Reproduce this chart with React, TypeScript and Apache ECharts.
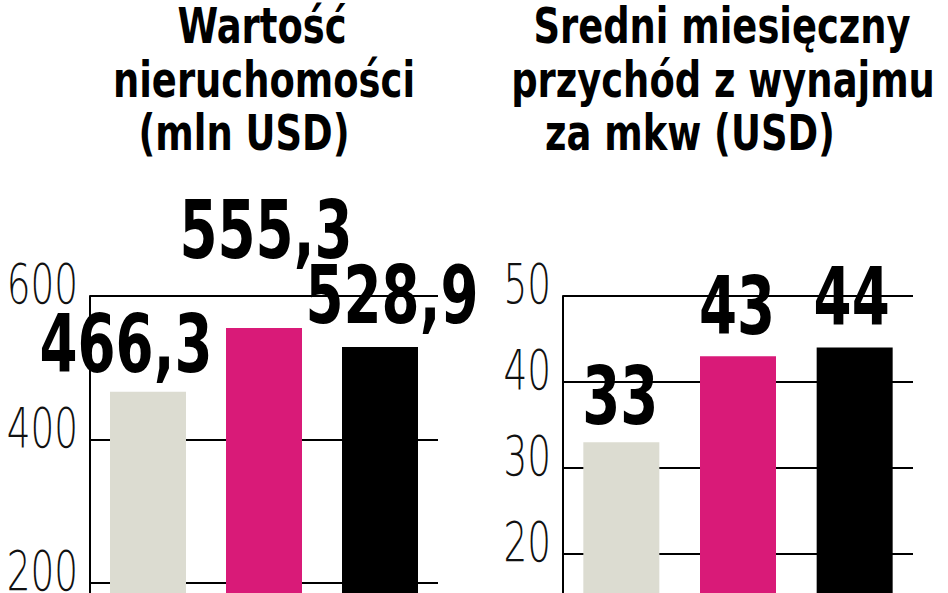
import React, { useEffect, useRef } from "react";
import * as echarts from "echarts";

// Categories are not visible in the cropped reference; kept as hidden placeholders
const categories = ["I", "II", "III"];
const propertyValues = [466.3, 555.3, 528.9]; // mln USD
const rentValues = [33, 43, 44]; // USD per sqm per month
const propertyTicks = [200, 400, 600];
const rentTicks = [20, 30, 40, 50];
const barColors = ["#dcdcd1", "#d91a78", "#000000"];
const propertyTitle = ["Wartość", "nieruchomości", "(mln USD)"];
const rentTitle = ["Sredni miesięczny", "przychód z wynajmu", "za mkw (USD)"];

// layout constants
const GRID_LEFT = [90, 563];
const GRID_RIGHT = [510, 35];
const GRID_TOP = 296;
const GRID_BOTTOM = -133;
const TITLE_CENTERS = [[262, 264, 244], [722, 723, 690]];
const TITLE_BASELINES = [43, 97, 150];
// extra label nudges (px) as placed in the original layout
const propertyLabelOffsets = [[-22, 0], [2, -50], [12, -4]];
const rentLabelOffsets = [[-1, 2], [-1, -2], [-3, -3]];

const COND = "'DejaVu Sans Condensed', 'DejaVu Sans', sans-serif";
const LIGHT = "'DejaVu Sans', sans-serif";

export default function App() {
  const ref = useRef<HTMLDivElement>(null);
  useEffect(() => {
    if (!ref.current) return;
    const chart = echarts.init(ref.current, null, { renderer: "svg" });

    const axisCommon = {
      axisLine: { show: true, lineStyle: { color: "#000", width: 2 } },
      axisTick: { show: false },
      axisLabel: { show: false },
      splitLine: { show: true, lineStyle: { color: "#000", width: 2 } },
    };

    chart.setOption({
      animation: false,
      backgroundColor: "#ffffff",
      grid: [0, 1].map((i) => ({
        left: GRID_LEFT[i],
        right: GRID_RIGHT[i],
        top: GRID_TOP,
        bottom: GRID_BOTTOM,
        containLabel: false,
        outerBoundsMode: "none",
      })),
      xAxis: [0, 1].map((i) => ({
        type: "category",
        gridIndex: i,
        data: categories,
        axisLine: { show: false },
        axisTick: { show: false },
        axisLabel: { show: false },
      })),
      yAxis: [
        { type: "value", gridIndex: 0, min: 0, max: 600, interval: 200, ...axisCommon },
        { type: "value", gridIndex: 1, min: 0, max: 50, interval: 10, ...axisCommon },
      ],
      series: [
        {
          type: "bar",
          xAxisIndex: 0,
          yAxisIndex: 0,
          barWidth: 76,
          data: propertyValues.map((v, i) => ({ value: v, itemStyle: { color: barColors[i] } })),
        },
        {
          type: "bar",
          xAxisIndex: 1,
          yAxisIndex: 1,
          barWidth: 76,
          data: rentValues.map((v, i) => ({ value: v, itemStyle: { color: barColors[i] } })),
        },
      ],
    });

    const graphics: any[] = [];

    // titles
    [propertyTitle, rentTitle].forEach((lines, p) => {
      lines.forEach((t, i) => {
        graphics.push({
          type: "text",
          x: TITLE_CENTERS[p][i],
          y: TITLE_BASELINES[i] - 0.346 * 50,
          scaleX: 0.82,
          z: 100,
          style: {
            text: t,
            fontFamily: COND,
            fontWeight: "bold",
            fontSize: 50,
            lineHeight: 46,
            fill: "#000",
            textAlign: "center",
            textVerticalAlign: "middle",
          },
        });
      });
    });

    // tick labels (positions from the value axes)
    [propertyTicks, rentTicks].forEach((ticks, p) => {
      ticks.forEach((t) => {
        const py = chart.convertToPixel({ yAxisIndex: p }, t) as number;
        graphics.push({
          type: "text",
          x: GRID_LEFT[p] - 12,
          y: py - 12,
          scaleX: 0.68,
          z: 100,
          style: {
            text: String(t),
            fontFamily: LIGHT,
            fontWeight: 200,
            fontSize: 55,
            lineHeight: 42,
            fill: "#111",
            textAlign: "right",
            textVerticalAlign: "middle",
          },
        });
      });
    });

    // value labels (positions from the bars' scales)
    const addValueLabels = (values: number[], p: number, fmt: (v: number) => string, offs: number[][]) => {
      values.forEach((v, i) => {
        const pt = chart.convertToPixel({ xAxisIndex: p, yAxisIndex: p }, [i, v]) as number[];
        const baseline = pt[1] - 20 + offs[i][1];
        graphics.push({
          type: "text",
          x: pt[0] + offs[i][0],
          y: baseline - 0.346 * 80,
          scaleX: 0.76,
          z: 110,
          style: {
            text: fmt(v),
            fontFamily: COND,
            fontWeight: "bold",
            fontSize: 80,
            fill: "#000",
            textAlign: "center",
            textVerticalAlign: "middle",
          },
        });
      });
    };
    addValueLabels(propertyValues, 0, (v) => v.toFixed(1).replace(".", ","), propertyLabelOffsets);
    addValueLabels(rentValues, 1, (v) => String(v), rentLabelOffsets);

    chart.setOption({ graphic: graphics });

    return () => chart.dispose();
  }, []);

  return (
    <div
      ref={ref}
      style={{ position: "fixed", left: 0, top: 0, width: 948, height: 593, background: "#fff" }}
    />
  );
}
